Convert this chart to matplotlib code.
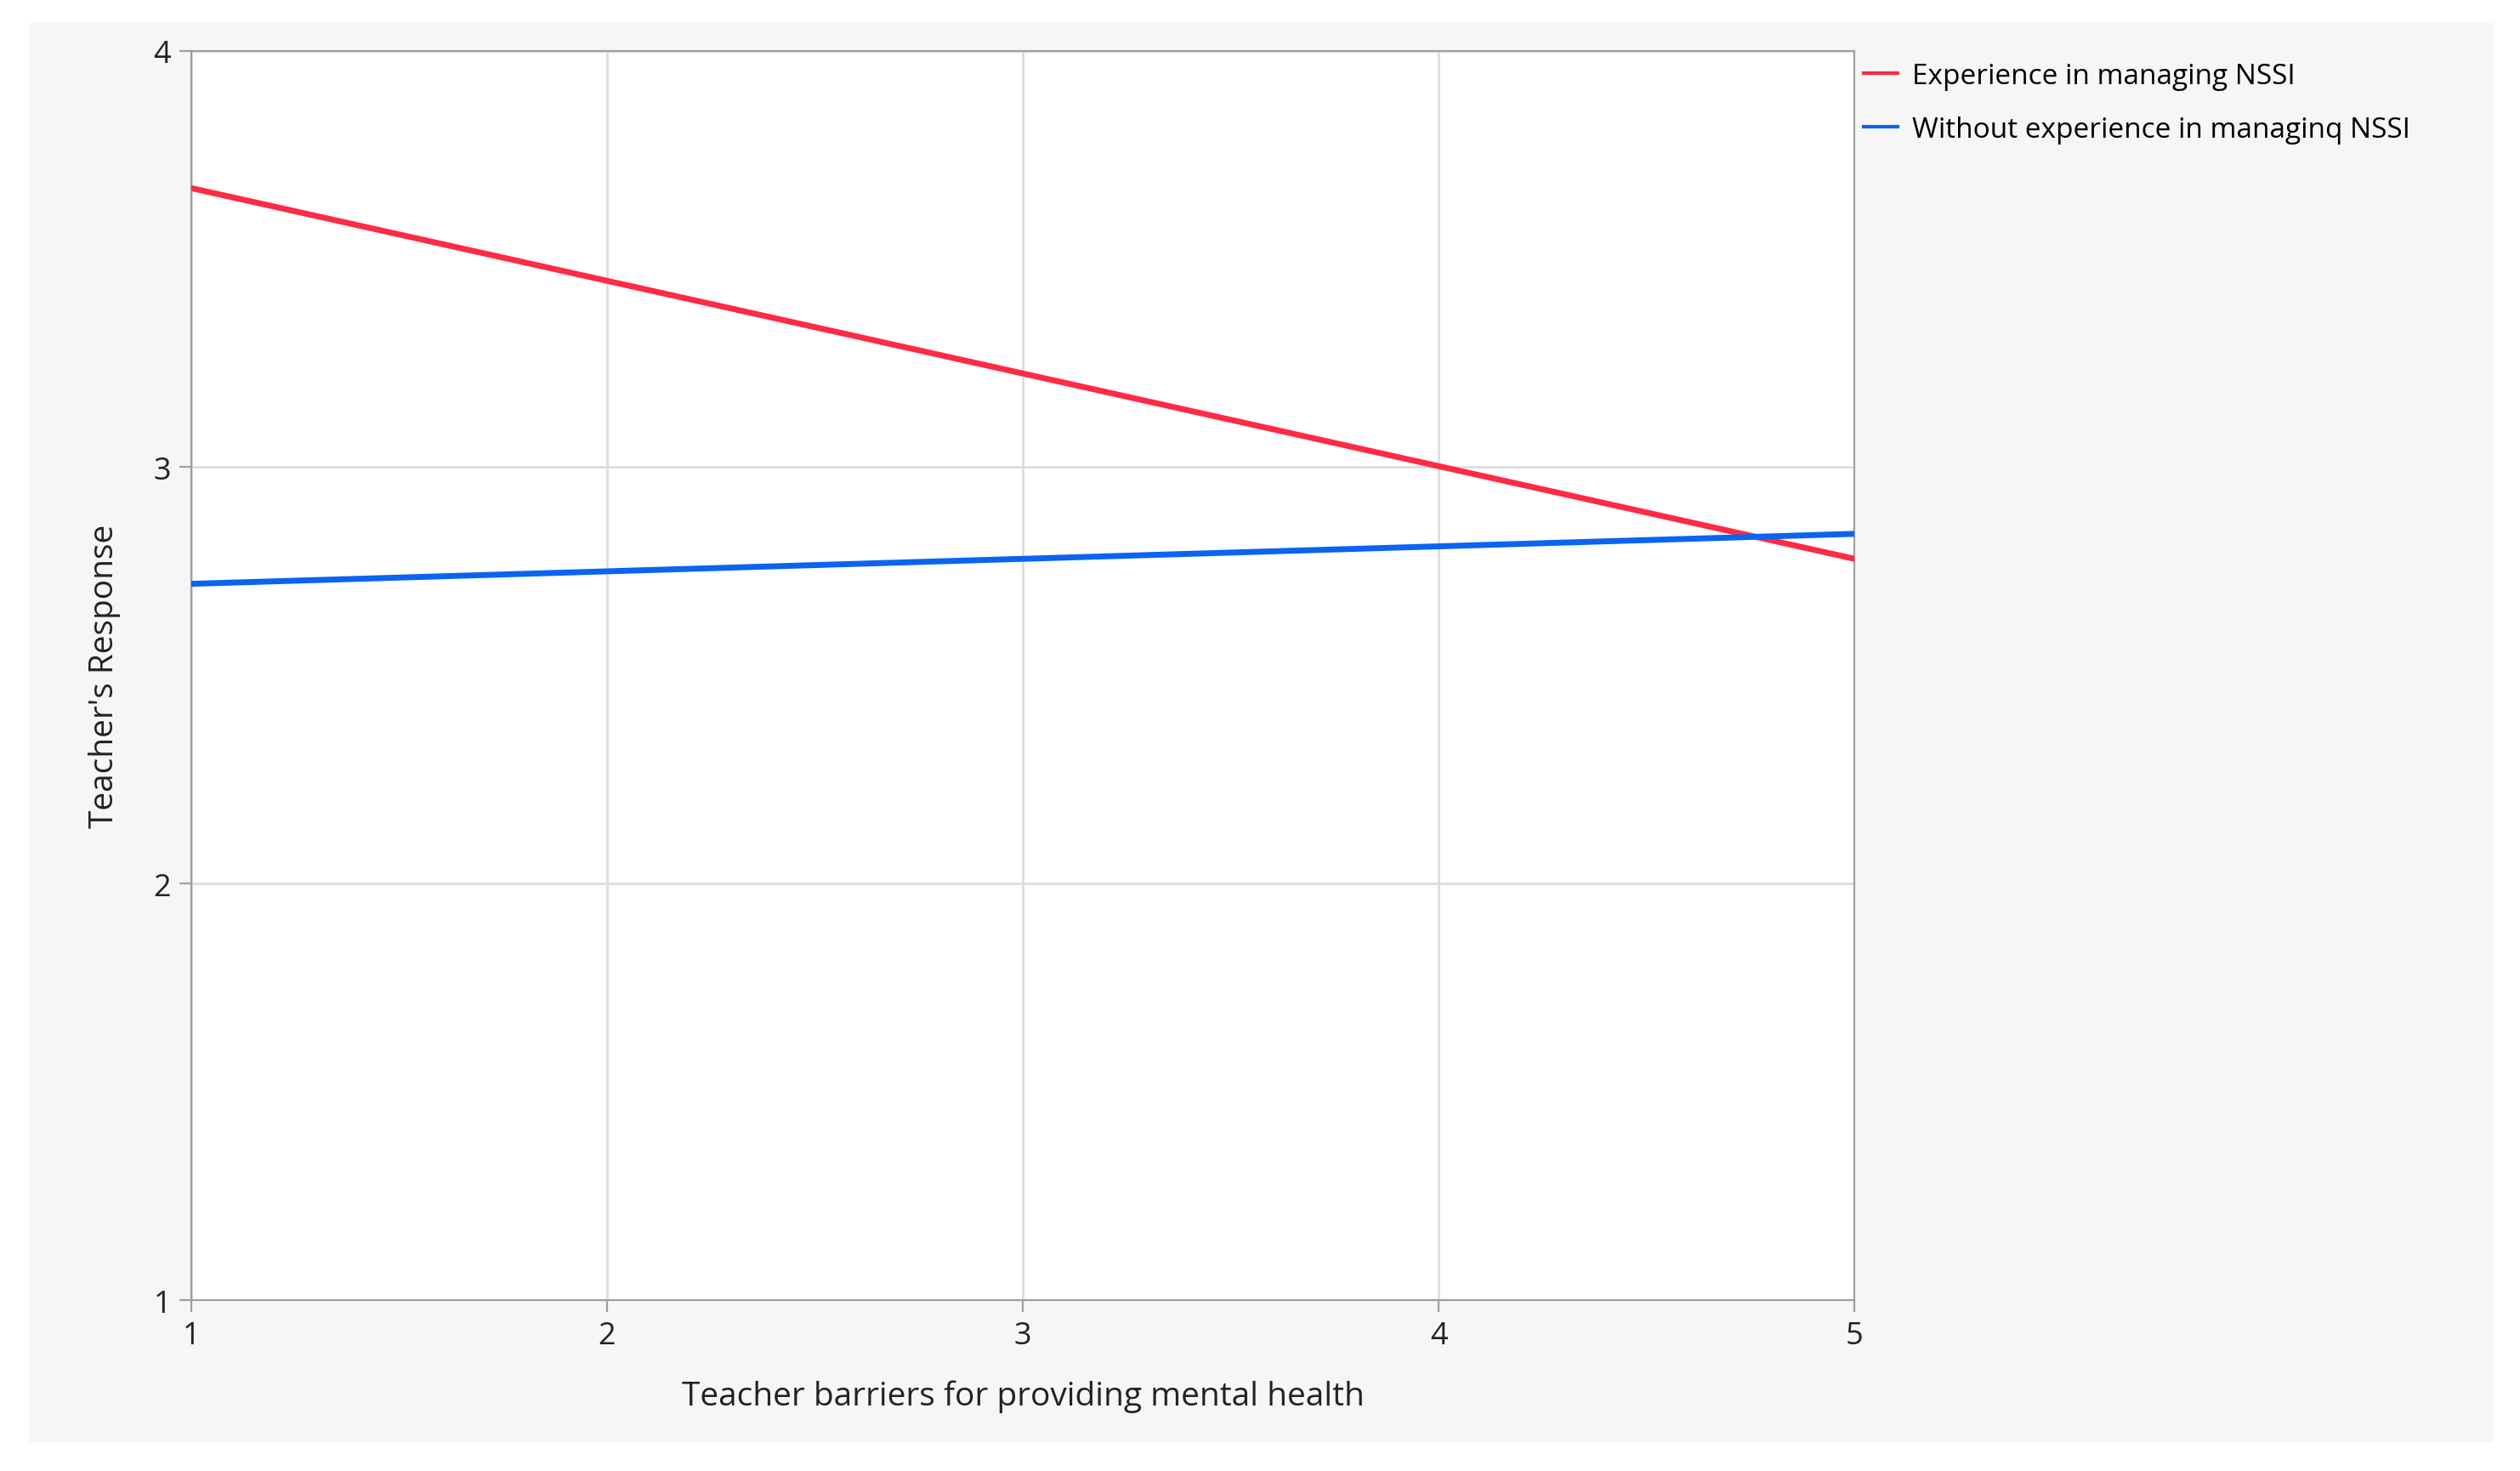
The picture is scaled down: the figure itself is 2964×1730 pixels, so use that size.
import matplotlib
matplotlib.use("Agg")
import matplotlib.pyplot as plt
from matplotlib.patches import Rectangle

plt.rcParams['font.family'] = ['Open Sans', 'DejaVu Sans']

x_vals = [1, 5]
exp_vals = [3.67, 2.78]
noexp_vals = [2.72, 2.84]
series_labels = ["Experience in managing NSSI", "Without experience in managinq NSSI"]
xlabel = "Teacher barriers for providing mental health"
ylabel = "Teacher's Response"

fig = plt.figure(figsize=(14.82, 8.655), dpi=200)
fig.patch.set_facecolor('white')
fig.add_artist(Rectangle((0.0115, 0.0197), 0.978, 0.964, transform=fig.transFigure,
                         facecolor='#f6f6f6', edgecolor='none', zorder=0))
ax = fig.add_axes([0.0759, 0.116, 0.660, 0.849])
ax.set_facecolor('white')
ax.plot(x_vals, exp_vals, color='#ff2a45', lw=2.5, label=series_labels[0], zorder=3)
ax.plot(x_vals, noexp_vals, color='#0a64f0', lw=2.5, label=series_labels[1], zorder=3)
ax.set_xlim(1, 5)
ax.set_ylim(1, 4)
ax.set_xticks([1, 2, 3, 4, 5])
ax.set_yticks([1, 2, 3, 4])
ax.grid(True, color='#dddddd', lw=1)
for s in ax.spines.values():
    s.set_color('#a0a0a0')
ax.tick_params(labelsize=13, color='#a0a0a0', length=5, labelcolor='#222222')
ax.set_xlabel(xlabel, fontsize=14, color='#222222', labelpad=12)
ax.set_ylabel(ylabel, fontsize=14, color='#222222', labelpad=14)
fig.legend(loc='upper left', bbox_to_anchor=(0.735, 0.965), frameon=False,
           fontsize=12, handlelength=1.2, handletextpad=0.5, labelspacing=0.9,
           borderaxespad=0)
for l in fig.legends[0].get_lines():
    l.set_linewidth(1.5)
fig.savefig("out.png", dpi=200)
